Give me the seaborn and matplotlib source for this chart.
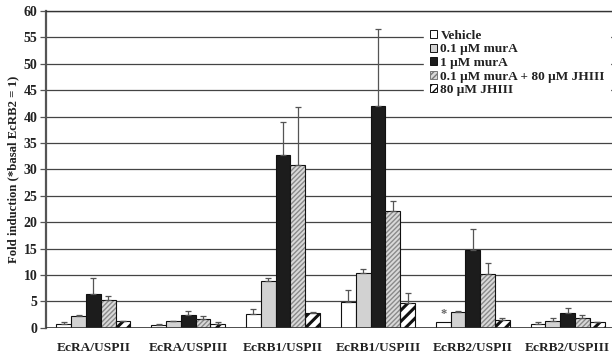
import numpy as np
import pandas as pd
import seaborn as sns
import matplotlib.pyplot as plt
from matplotlib.patches import Rectangle, Patch

# Receptor combinations on the x axis
constructs = ["EcRA/USPII", "EcRA/USPIII", "EcRB1/USPII",
              "EcRB1/USPIII", "EcRB2/USPII", "EcRB2/USPIII"]
treatments = ["Vehicle", "0.1 μM murA", "1 μM murA",
              "0.1 μM murA + 80 μM JHIII", "80 μM JHIII"]

# Mean fold induction and upper error per treatment
vehicle = [0.8, 0.6, 2.6, 4.9, 1.1, 0.8]
vehicle_err = [0.25, 0.15, 0.9, 2.3, 0.0, 0.2]
mura_low = [2.2, 1.2, 8.9, 10.3, 3.0, 1.3]
mura_low_err = [0.2, 0.15, 0.5, 0.9, 0.1, 0.6]
mura_high = [6.4, 2.4, 32.7, 42.0, 14.7, 2.7]
mura_high_err = [3.0, 0.8, 6.2, 14.6, 4.0, 1.0]
mura_jh = [5.3, 1.6, 30.8, 22.1, 10.1, 1.8]
mura_jh_err = [0.8, 0.7, 11.0, 1.9, 2.1, 0.7]
jh = [1.2, 0.8, 2.85, 4.6, 1.4, 1.0]
jh_err = [0.1, 0.3, 0.1, 1.9, 0.4, 0.1]

means = [vehicle, mura_low, mura_high, mura_jh, jh]
errors = [vehicle_err, mura_low_err, mura_high_err, mura_jh_err, jh_err]

df = pd.DataFrame({
    "construct": np.tile(constructs, len(treatments)),
    "treatment": np.repeat(treatments, len(constructs)),
    "fold": np.concatenate(means),
})

sns.set_theme(style="white")
plt.rcParams["font.family"] = ["Liberation Serif", "DejaVu Serif"]
plt.rcParams["font.weight"] = "bold"

fills = ["#ffffff", "#d2d2d2", "#1c1c1c", "#d9d9d9", "#ffffff"]

fig = plt.figure(figsize=(6.12, 3.57), dpi=100)
ax = fig.add_axes([46 / 612, 0.082, 569 / 612, 0.887])

sns.barplot(data=df, x="construct", y="fold", hue="treatment",
            order=constructs, hue_order=treatments, palette=fills,
            errorbar=None, width=0.78, edgecolor="#111111", linewidth=0.8,
            saturation=1, legend=False, ax=ax, zorder=3)

# Hatched series: grey stripes on the combined treatment, bold black stripes on JHIII
for p in ax.containers[3]:
    p.set_hatch("///////")
    p.set_edgecolor("#8a8a8a")
    p.set_linewidth(0)
    if hasattr(p, "set_hatch_linewidth"):
        p.set_hatch_linewidth(1.0)
    ax.add_patch(Rectangle(p.get_xy(), p.get_width(), p.get_height(),
                           fill=False, edgecolor="#111111", linewidth=0.8,
                           zorder=3.5))
for p in ax.containers[4]:
    p.set_hatch("///")
    p.set_edgecolor("#111111")
    if hasattr(p, "set_hatch_linewidth"):
        p.set_hatch_linewidth(2.2)

# Upper-only error bars placed on each bar centre
for cont, err in zip(ax.containers, errors):
    xs = [p.get_x() + p.get_width() / 2 for p in cont]
    ys = [p.get_height() for p in cont]
    e = np.array(err)
    mask = e > 0
    ax.errorbar(np.array(xs)[mask], np.array(ys)[mask],
                yerr=[np.zeros(mask.sum()), e[mask]], fmt="none",
                ecolor="#555555", elinewidth=0.9, capsize=2.3,
                capthick=0.9, zorder=4)

# Asterisk marks the reference construct (basal EcRB2 = 1)
ref = ax.containers[0][constructs.index("EcRB2/USPII")]
ax.text(ref.get_x() + ref.get_width() / 2, ref.get_height() + 0.3, "*",
        ha="center", va="bottom", fontsize=9, color="#666666")

ax.set_ylim(0, 60)
ax.set_xlim(-0.5, 5.5)
ax.set_yticks(np.arange(0, 61, 5))
ax.yaxis.grid(True, color="#444444", linewidth=0.9)
ax.set_axisbelow(True)
for s in ["right", "bottom"]:
    ax.spines[s].set_visible(False)
ax.spines["left"].set_color("#555555")
ax.spines["left"].set_linewidth(1.6)
ax.spines["top"].set_color("#333333")
ax.spines["top"].set_linewidth(1.0)
ax.axhline(0, color="#333333", linewidth=1.2, zorder=5)
ax.tick_params(axis="y", left=True, length=4, width=0.9, color="#555555",
               labelsize=10, pad=2)
ax.tick_params(axis="x", bottom=False, length=0, labelsize=9.6, pad=10)
for lab in ax.get_xticklabels() + ax.get_yticklabels():
    lab.set_fontweight("bold")
    lab.set_color("#222222")
ax.set_xlabel("")
ax.set_ylabel("Fold induction (*basal EcRB2 = 1)", fontsize=9.2,
              fontweight="bold", color="#222222", labelpad=3)

handles = []
for i, name in enumerate(treatments):
    kw = dict(facecolor=fills[i], edgecolor="#111111", linewidth=0.7, label=name)
    if i == 3:
        kw.update(hatch="//////", edgecolor="#777777")
    if i == 4:
        kw.update(hatch="////")
    handles.append(Patch(**kw))
leg = ax.legend(handles=handles, loc="upper left",
                bbox_to_anchor=(0.665, 0.958), frameon=True, fancybox=False,
                framealpha=1, edgecolor="white", facecolor="white",
                prop={"family": "Liberation Serif", "weight": "bold", "size": 9.6},
                handlelength=0.55, handleheight=0.55, handletextpad=0.25,
                labelspacing=0.12, borderpad=0.4, borderaxespad=0)
leg.set_zorder(6)
for t in leg.get_texts():
    t.set_color("#222222")

fig.savefig("out.png", dpi=100)
